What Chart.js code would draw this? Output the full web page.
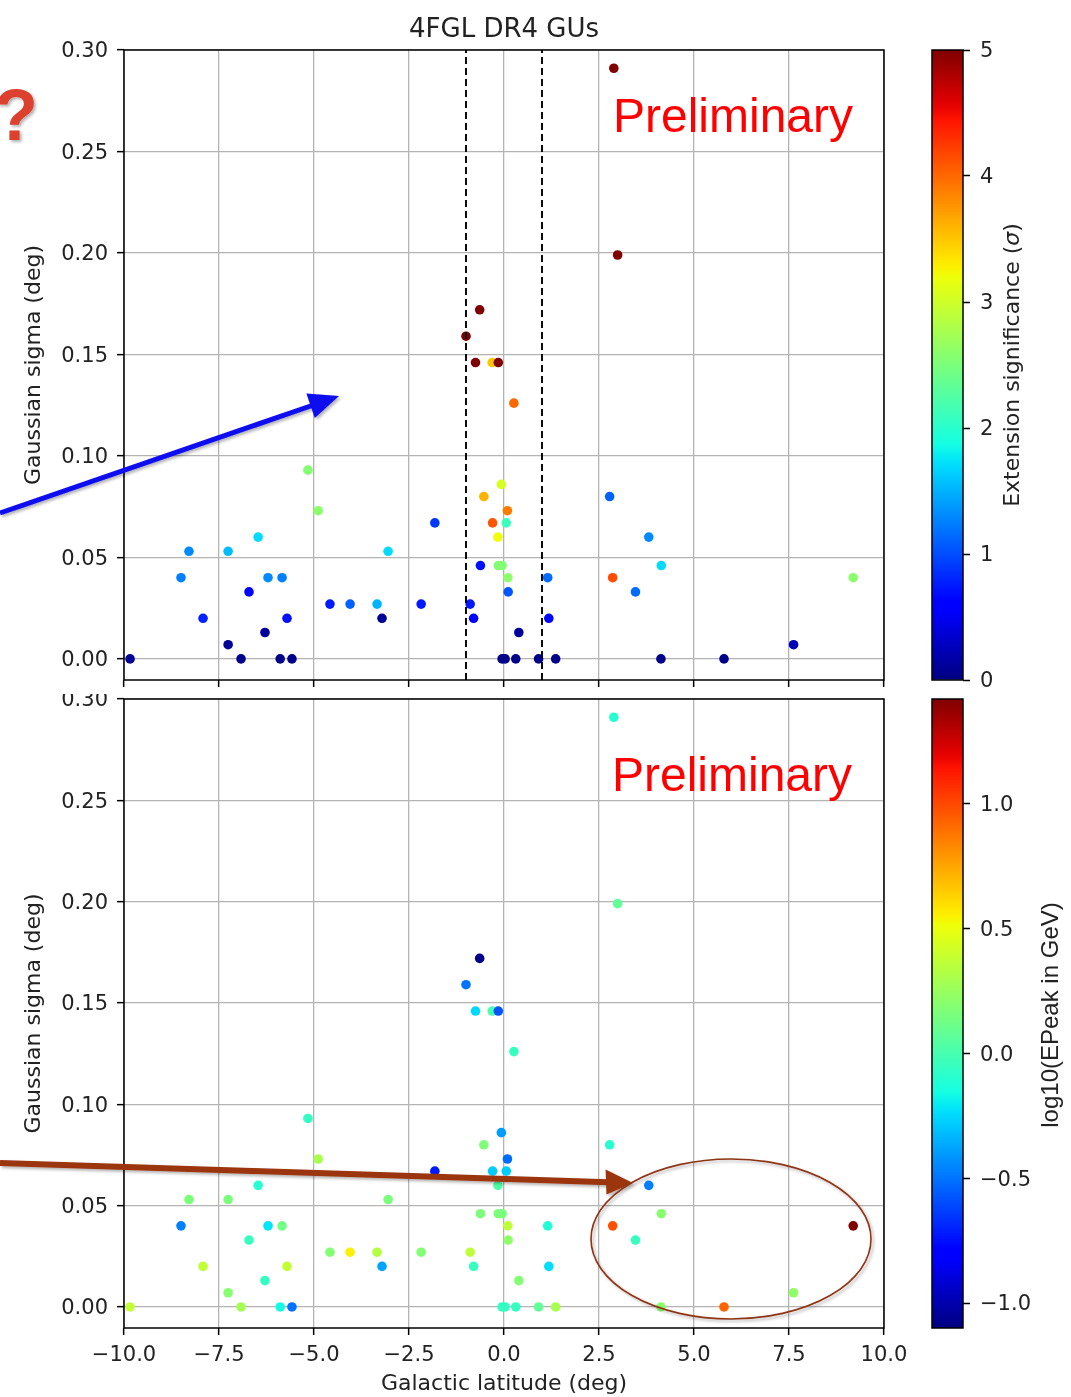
<!DOCTYPE html>
<html>
<head>
<meta charset="utf-8">
<title>4FGL DR4 GUs</title>
<script src="https://cdn.jsdelivr.net/npm/chart.js@4.4.1/dist/chart.umd.min.js"></script>
<style>
  html, body { margin: 0; padding: 0; background: #fff; }
  #page { position: relative; width: 1071px; height: 1397px; overflow: hidden; background: #fff; }
  #page canvas, #page svg { position: absolute; }
</style>
</head>
<body>
<div id="page">
  <canvas id="topScatter" width="930" height="694" style="left:0;top:0"></canvas>
  <canvas id="topBar" width="141" height="694" style="left:930px;top:0"></canvas>
  <canvas id="bottomScatter" width="930" height="703" style="left:0;top:694px"></canvas>
  <canvas id="bottomBar" width="141" height="703" style="left:930px;top:694px"></canvas>
  <svg width="1071" height="1397" style="left:0;top:0">
    <defs>
      <filter id="shadow" x="-20%" y="-20%" width="140%" height="140%">
        <feDropShadow dx="2" dy="2" stdDeviation="1.5" flood-color="#000" flood-opacity="0.3"/>
      </filter>
    </defs>
    <text x="-6" y="140" font-family="Liberation Sans, Arial, sans-serif" font-weight="bold" font-size="72" fill="#dc3f2e" filter="url(#shadow)">?</text>
    <text x="613" y="131.5" font-family="Liberation Sans, Arial, sans-serif" font-size="48" fill="#ff0000">Preliminary</text>
    <text x="612" y="791" font-family="Liberation Sans, Arial, sans-serif" font-size="48" fill="#ff0000">Preliminary</text>
    <g filter="url(#shadow)">
      <line x1="0" y1="513" x2="312" y2="405.5" stroke="#0b0bef" stroke-width="5"/>
      <polygon points="339,396 306.4,393.5 314.8,418.1" fill="#0b0bef"/>
    </g>
    <g filter="url(#shadow)">
      <line x1="0" y1="1163" x2="608" y2="1182.2" stroke="#9a3510" stroke-width="6"/>
      <polygon points="633,1183 605.6,1169.6 606.4,1194.6" fill="#9a3510"/>
    </g>
    <ellipse cx="731" cy="1239" rx="140" ry="80" fill="none" stroke="#8e3414" stroke-width="1.6" filter="url(#shadow)"/>
  </svg>
</div>
<script>
// values
const galLat = [
  -9.84, -8.50, -8.29, -7.92, -7.26, -7.26, -6.92, -6.71, -6.47, -6.29,
  -6.21, -5.89, -5.84, -5.71, -5.58, -5.16, -4.89, -4.58, -4.05, -3.34,
  -3.21, -3.05, -2.18, -1.82, -1.00, -0.89, -0.80, -0.75, -0.64, -0.62,
  -0.53, -0.31, -0.30, -0.16, -0.15, -0.15, -0.07, -0.05, -0.05, 0.03,
  0.06, 0.09, 0.10, 0.11, 0.26, 0.31, 0.39, 0.91, 1.15, 1.18,
  1.36, 2.78, 2.86, 2.89, 2.99, 3.46, 3.81, 4.13, 4.14, 5.79,
  7.62, 9.19
];
const gaussSigma = [
  0.000, 0.040, 0.053, 0.020, 0.007, 0.053, 0.000, 0.033, 0.060, 0.013,
  0.040, 0.000, 0.040, 0.020, 0.000, 0.093, 0.073, 0.027, 0.027, 0.027,
  0.020, 0.053, 0.027, 0.067, 0.159, 0.027, 0.020, 0.146, 0.172, 0.046,
  0.080, 0.146, 0.067, 0.060, 0.146, 0.046, 0.086, 0.000, 0.046, 0.000,
  0.067, 0.073, 0.040, 0.033, 0.126, 0.000, 0.013, 0.000, 0.040, 0.020,
  0.000, 0.080, 0.040, 0.291, 0.199, 0.033, 0.060, 0.000, 0.046, 0.000,
  0.007, 0.040
];
const extSignif = [
  0.10, 1.25, 1.30, 0.80, 0.10, 1.55, 0.05, 0.65, 1.70, 0.12,
  1.30, 0.05, 1.25, 0.70, 0.05, 2.55, 2.60, 0.75, 1.10, 1.50,
  0.10, 1.70, 0.75, 0.90, 5.00, 0.75, 0.60, 5.00, 5.00, 0.70,
  3.60, 3.50, 4.10, 3.20, 5.00, 2.55, 3.05, 0.05, 2.55, 0.05,
  2.10, 3.90, 2.60, 1.05, 4.00, 0.05, 0.12, 0.05, 1.15, 0.65,
  0.05, 1.10, 4.15, 5.00, 5.00, 1.15, 1.30, 0.05, 1.70, 0.05,
  0.25, 2.60
];
const logEPeak = [
  0.38, -0.47, 0.16, 0.37, 0.20, 0.16, 0.28, -0.05, -0.10, -0.06,
  -0.22, -0.16, 0.13, 0.38, -0.50, -0.06, 0.30, 0.18, 0.55, 0.33,
  -0.38, 0.16, 0.18, -0.72, -0.50, 0.36, -0.05, -0.25, -1.07, 0.16,
  0.17, 0.00, -0.28, 0.03, -0.58, 0.16, -0.40, -0.06, 0.16, -0.06,
  -0.28, -0.52, 0.36, 0.22, -0.05, -0.06, 0.18, 0.08, -0.12, -0.24,
  0.30, -0.10, 0.98, -0.10, 0.08, -0.05, -0.47, 0.20, 0.20, 0.93,
  0.22, 1.42
];
const bandEdges = [-1, 1];

const latRange = [-10, 10];
const sigmaRange = [-0.0104, 0.30];
const signifRange = [0, 5];
const ePeakRange = [-1.10, 1.42];

const latTicks = [-10, -7.5, -5, -2.5, 0, 2.5, 5, 7.5, 10];
const sigmaTicks = [0, 0.05, 0.10, 0.15, 0.20, 0.25, 0.30];
const signifTicks = [0, 1, 2, 3, 4, 5];
const ePeakTicks = [-1, -0.5, 0, 0.5, 1];

Chart.defaults.font.family = '"DejaVu Sans", sans-serif';
Chart.defaults.color = '#222';

// matplotlib jet colormap
const jetRed = [[0, 0], [0.35, 0], [0.66, 1], [0.89, 1], [1, 0.5]];
const jetGreen = [[0, 0], [0.125, 0], [0.375, 1], [0.64, 1], [0.91, 0], [1, 0]];
const jetBlue = [[0, 0.5], [0.11, 1], [0.34, 1], [0.65, 0], [1, 0]];

function interp(stops, f) {
  for (let i = 1; i < stops.length; i++) {
    if (f <= stops[i][0]) {
      const [x0, y0] = stops[i - 1];
      const [x1, y1] = stops[i];
      return y0 + (y1 - y0) * (f - x0) / (x1 - x0);
    }
  }
  return stops[stops.length - 1][1];
}

function jet(f) {
  f = Math.min(1, Math.max(0, f));
  const c = [jetRed, jetGreen, jetBlue].map(s => Math.round(interp(s, f) * 255));
  return `rgb(${c[0]},${c[1]},${c[2]})`;
}

const signed1 = v => (v < 0 ? '\u2212' : '') + Math.abs(v).toFixed(1);

const framePlugin = {
  id: 'frame',
  afterDraw(chart) {
    const { ctx, chartArea: a } = chart;
    ctx.save();
    ctx.strokeStyle = '#000';
    ctx.lineWidth = 1.5;
    ctx.strokeRect(a.left, a.top, a.right - a.left, a.bottom - a.top);
    ctx.restore();
  }
};

function colorbarLabel(parts, x, y) {
  return {
    id: 'cbLabel',
    afterDraw(chart) {
      const { ctx } = chart;
      ctx.save();
      ctx.translate(x, y);
      ctx.rotate(-Math.PI / 2);
      ctx.fillStyle = '#222';
      ctx.textBaseline = 'middle';
      ctx.textAlign = 'left';
      let total = 0;
      parts.forEach(p => { ctx.font = p.font; total += ctx.measureText(p.text).width; });
      let cx = -total / 2;
      parts.forEach(p => {
        ctx.font = p.font;
        ctx.fillText(p.text, cx, 0);
        cx += ctx.measureText(p.text).width;
      });
      ctx.restore();
    }
  };
}

function buildScatter(canvasId, colorValues, colorRange, cfg) {
  const span = colorRange[1] - colorRange[0];
  const datasets = [{
    data: galLat.map((x, i) => ({ x, y: gaussSigma[i] })),
    pointBackgroundColor: colorValues.map(v => jet((v - colorRange[0]) / span)),
    pointBorderWidth: 0,
    pointRadius: 4.8,
    pointHoverRadius: 4.8,
    order: 1
  }];
  if (cfg.dashed) {
    bandEdges.forEach(x => datasets.push({
      data: [{ x, y: sigmaRange[0] }, { x, y: sigmaRange[1] }],
      showLine: true,
      borderColor: '#000',
      borderWidth: 1.9,
      borderDash: [7, 4],
      pointRadius: 0,
      order: 0
    }));
  }
  return new Chart(document.getElementById(canvasId), {
    type: 'scatter',
    data: { datasets },
    plugins: [framePlugin],
    options: {
      responsive: false,
      animation: false,
      devicePixelRatio: 1,
      layout: { padding: { left: 0, right: 46, top: cfg.padTop, bottom: 0 } },
      plugins: {
        legend: { display: false },
        tooltip: { enabled: false },
        title: cfg.title ? {
          display: true,
          text: cfg.title,
          fullSize: false,
          color: '#222',
          font: { size: 26, weight: 'normal' },
          padding: { top: 15, bottom: 3.8 }
        } : { display: false }
      },
      scales: {
        x: {
          type: 'linear',
          min: latRange[0],
          max: latRange[1],
          afterBuildTicks: s => { s.ticks = latTicks.map(value => ({ value })); },
          afterFit: s => { s.height = cfg.xHeight; s.paddingLeft = 0; s.paddingRight = 0; },
          ticks: {
            display: cfg.xLabels,
            font: { size: 21 },
            padding: 8,
            maxRotation: 0,
            autoSkip: false,
            callback: signed1
          },
          grid: { color: '#b4b4b4', lineWidth: 1.3, tickColor: '#000', tickLength: 7, tickWidth: 1.5 },
          border: { display: false },
          title: {
            display: cfg.xLabels,
            text: 'Galactic latitude (deg)',
            font: { size: 22 },
            padding: { top: 0, bottom: 0 }
          }
        },
        y: {
          type: 'linear',
          min: sigmaRange[0],
          max: sigmaRange[1],
          afterBuildTicks: s => { s.ticks = sigmaTicks.map(value => ({ value })); },
          afterFit: s => { s.width = 124; s.paddingTop = 0; s.paddingBottom = 0; },
          ticks: { font: { size: 21 }, padding: 9, labelOffset: 2, callback: v => v.toFixed(2) },
          grid: { color: '#b4b4b4', lineWidth: 1.3, tickColor: '#000', tickLength: 7, tickWidth: 1.5 },
          border: { display: false },
          title: {
            display: true,
            text: 'Gaussian sigma (deg)',
            font: { size: 22 },
            padding: { top: 21, bottom: 0 }
          }
        }
      }
    }
  });
}

function buildColorbar(canvasId, range, ticks, pad, label, fmt) {
  return new Chart(document.getElementById(canvasId), {
    type: 'bar',
    data: {
      labels: ['cb'],
      datasets: [{
        data: [[range[0], range[1]]],
        borderWidth: 0,
        barPercentage: 1,
        categoryPercentage: 1,
        backgroundColor(context) {
          const { ctx, chartArea } = context.chart;
          if (!chartArea) return '#000';
          const g = ctx.createLinearGradient(0, chartArea.bottom, 0, chartArea.top);
          for (let i = 0; i <= 64; i++) g.addColorStop(i / 64, jet(i / 64));
          return g;
        }
      }]
    },
    plugins: [framePlugin, label],
    options: {
      responsive: false,
      animation: false,
      devicePixelRatio: 1,
      layout: { padding: { left: 2, right: 0, top: pad.top, bottom: pad.bottom } },
      plugins: { legend: { display: false }, tooltip: { enabled: false } },
      scales: {
        x: { display: false },
        y: {
          type: 'linear',
          position: 'right',
          min: range[0],
          max: range[1],
          afterBuildTicks: s => { s.ticks = ticks.map(value => ({ value })); },
          afterFit: s => { s.width = 108; s.paddingTop = 0; s.paddingBottom = 0; },
          ticks: { font: { size: 21 }, padding: 10, labelOffset: 2, callback: fmt },
          grid: { drawOnChartArea: false, tickColor: '#000', tickLength: 7, tickWidth: 1.5 },
          border: { display: false }
        }
      }
    }
  });
}

buildScatter('topScatter', extSignif, signifRange, {
  title: '4FGL DR4 GUs', padTop: 0, xHeight: 14, xLabels: false, dashed: true
});
buildScatter('bottomScatter', logEPeak, ePeakRange, {
  title: null, padTop: 5, xHeight: 69, xLabels: true, dashed: false
});

buildColorbar('topBar', signifRange, signifTicks, { top: 50, bottom: 14 }, colorbarLabel([
  { text: 'Extension significance (', font: '22px "DejaVu Sans"' },
  { text: '\u03c3', font: 'italic 22px "DejaVu Sans"' },
  { text: ')', font: '22px "DejaVu Sans"' }
], 83, 365), v => String(v));
buildColorbar('bottomBar', ePeakRange, ePeakTicks, { top: 5, bottom: 69 }, colorbarLabel([
  { text: 'log10(EPeak in GeV)', font: '24px "Liberation Sans", Arial, sans-serif' }
], 121, 321), signed1);
</script>
</body>
</html>
